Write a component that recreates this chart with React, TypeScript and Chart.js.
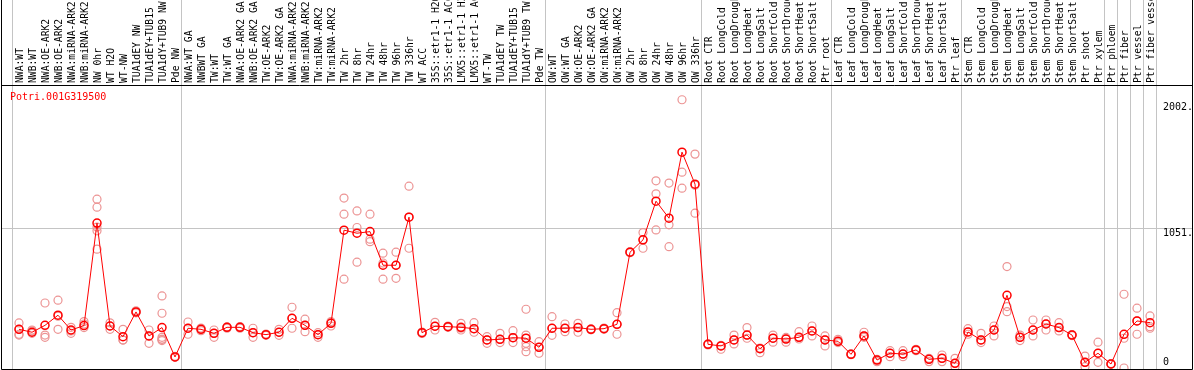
import React, { useEffect, useRef } from "react";
import { Chart, registerables } from "chart.js";

Chart.register(...registerables);

const GENE = "Potri.001G319500";

const CATEGORIES = [
  "NWA:WT", "NWB:WT", "NWA:OE-ARK2", "NWB:OE-ARK2", "NWA:miRNA-ARK2", "NWB:miRNA-ARK2", "NW 0hr", "WT H2O", "WT-NW", "TUA1dEY NW", "TUA1dEY+TUB15", "TUA1dY+TUB9 NW", "Pde NW",
  "NWA:WT GA", "NWBWT GA", "TW:WT", "TW:WT GA", "NWA:OE-ARK2 GA", "NWB:OE-ARK2 GA", "TW:OE-ARK2", "TW:OE-ARK2 GA", "NWA:miRNA-ARK2", "NWB:miRNA-ARK2", "TW:miRNA-ARK2", "TW:miRNA-ARK2", "TW 2hr", "TW 8hr", "TW 24hr", "TW 48hr", "TW 96hr", "TW 336hr", "WT ACC", "35S::etr1-1 H2O", "35S::etr1-1 ACC", "LMX5::etr1-1 H2O", "LMX5::etr1-1 ACC", "WT-TW", "TUA1dEY TW", "TUA1dEY+TUB15", "TUA1dY+TUB9 TW", "Pde TW",
  "OW:WT", "OW:WT GA", "OW:OE-ARK2", "OW:OE-ARK2 GA", "OW:miRNA-ARK2", "OW:miRNA-ARK2", "OW 2hr", "OW 8hr", "OW 24hr", "OW 48hr", "OW 96hr", "OW 336hr",
  "Root CTR", "Root LongCold", "Root LongDrought", "Root LongHeat", "Root LongSalt", "Root ShortCold", "Root ShortDrought", "Root ShortHeat", "Root ShortSalt", "Ptr root",
  "Leaf CTR", "Leaf LongCold", "Leaf LongDrought", "Leaf LongHeat", "Leaf LongSalt", "Leaf ShortCold", "Leaf ShortDrought", "Leaf ShortHeat", "Leaf ShortSalt", "Ptr leaf",
  "Stem CTR", "Stem LongCold", "Stem LongDrought", "Stem LongHeat", "Stem LongSalt", "Stem ShortCold", "Stem ShortDrought", "Stem ShortHeat", "Stem ShortSalt", "Ptr shoot", "Ptr xylem",
  "Ptr phloem", "Ptr fiber", "Ptr vessel", "Ptr fiber vessel",
];

const MEAN = [
  291, 269, 321, 397, 286, 319, 1090, 316, 236, 422, 241, 304, 83,
  299, 291, 261, 306, 306, 266, 251, 269, 374, 321, 251, 336, 1037, 1014, 1026, 773, 773, 1135, 266, 314, 311, 306, 296, 211, 216, 228, 224, 156,
  299, 299, 304, 291, 296, 329, 871, 964, 1255, 1127, 1624, 1383,
  178, 166, 211, 248, 145, 224, 218, 231, 279, 211,
  201, 103, 241, 60, 111, 105, 136, 65, 73, 35,
  271, 211, 286, 547, 231, 286, 331, 304, 248, 43, 111,
  30, 253, 354, 341,
];

const REPLICATES = [
  [339, 291, 254, 248], [286, 261, 279], [489, 248, 231], [510, 291, 390], [306, 261, 279], [349, 304, 331],
  [1270, 1210, 1032, 894, 1060], [340, 316, 291], [291, 211, 210], [430, 415, 422], [286, 186, 241],
  [542, 412, 231, 216, 206, 216], [88, 80, 83],
  [346, 299, 254], [281, 291, 300], [286, 261, 231], [306, 310, 300], [306, 300, 312], [299, 266, 231],
  [251, 255, 246], [291, 269, 246], [457, 299, 374], [367, 321, 273], [266, 251, 231], [349, 316, 340],
  [1278, 1157, 668], [1182, 1057, 796], [1157, 969, 950], [864, 668, 790], [871, 675, 773], [1368, 901, 1136],
  [266, 270, 260], [344, 286, 314], [311, 316, 306], [336, 286, 300], [341, 269, 296], [186, 211, 236],
  [261, 191, 216], [281, 191, 228], [442, 248, 186, 160, 123, 224], [198, 111, 156],
  [386, 246, 299], [331, 273, 299], [336, 269, 304], [291, 295, 287], [296, 300, 292], [416, 254, 329],
  [871, 875, 867], [1019, 901, 964], [1408, 1310, 1039], [1391, 1077, 913], [2018, 1473, 1353], [1609, 1165, 1375],
  [178, 182, 174], [141, 166, 170], [248, 181, 211], [304, 224, 248], [115, 145, 150], [248, 194, 224],
  [194, 218, 230], [273, 218, 231], [316, 241, 279], [241, 166, 211],
  [216, 191, 201], [103, 100, 106], [269, 231, 241], [48, 60, 65], [130, 85, 111], [130, 85, 105],
  [141, 136, 130], [73, 48, 65], [98, 48, 73], [73, 10, 35],
  [296, 254, 271], [261, 191, 211], [316, 241, 286], [763, 462, 424], [248, 206, 231], [361, 241, 286],
  [361, 286, 331], [341, 279, 304], [248, 244, 252], [90, 10, 43], [194, 43, 111],
  [30, 28, 33], [555, 0, 224], [450, 254, 354], [392, 299, 311],
];

const GROUP_BOUNDARIES = [0, 13, 41, 53, 63, 73, 84, 85, 86, 87, 88];
const Y_TICKS = [0, 1051, 2002];
const Y_TICK_LABELS = ["0", "1051.", "2002."];

const MONO = "'DejaVu Sans Mono', monospace";
const GRID = "#c4c4c4";
const RED = "#ff0000";
const PINK = "#ec9494";

export default function App() {
  const ref = useRef<HTMLCanvasElement>(null);

  useEffect(() => {
    const canvas = ref.current;
    if (!canvas) return;
    const meanPts = MEAN.map((v, i) => ({ x: i, y: v }));
    const repPts = REPLICATES.flatMap((arr, i) => arr.map((v) => ({ x: i, y: v })));

    const framePlugin = {
      id: "frame",
      afterDraw(chart: any) {
        const { ctx, chartArea, scales } = chart;
        const left = chartArea.left + 0.5;
        const right = scales.y.right + 0.5;
        const bottom = chartArea.bottom + 0.5;
        const top = chartArea.top + 0.5;
        ctx.save();
        ctx.strokeStyle = "#000";
        ctx.lineWidth = 1;
        ctx.beginPath();
        ctx.moveTo(left, 0);
        ctx.lineTo(left, bottom);
        ctx.moveTo(right, 0);
        ctx.lineTo(right, bottom);
        ctx.moveTo(left, bottom);
        ctx.lineTo(right, bottom);
        ctx.moveTo(left, top);
        ctx.lineTo(right, top);
        ctx.stroke();
        ctx.fillStyle = RED;
        ctx.font = `10px ${MONO}`;
        ctx.textBaseline = "middle";
        ctx.textAlign = "left";
        ctx.fillText(GENE, chartArea.left + 9, chartArea.top + 12);
        ctx.restore();
      },
    };

    const chart = new Chart(canvas, {
      type: "line",
      data: {
        datasets: [
          {
            label: GENE,
            data: meanPts,
            borderColor: RED,
            borderWidth: 1,
            pointRadius: 4,
            pointBorderWidth: 1.5,
            pointBorderColor: RED,
            pointBackgroundColor: "rgba(0,0,0,0)",
            tension: 0,
          },
          {
            label: "replicates",
            data: repPts,
            showLine: false,
            pointRadius: 4,
            pointBorderWidth: 1.2,
            pointBorderColor: PINK,
            pointBackgroundColor: "rgba(0,0,0,0)",
          },
        ],
      },
      options: {
        animation: false,
        responsive: false,
        events: [],
        layout: { autoPadding: false, padding: { left: 1, right: 2, top: 0, bottom: 1 } },
        plugins: { legend: { display: false }, tooltip: { enabled: false } },
        scales: {
          x: {
            type: "linear",
            position: "top",
            min: -18 / 13,
            max: -18 / 13 + 1156 / 13,
            afterBuildTicks: (s: any) => {
              s.ticks = CATEGORIES.map((_, i) => ({ value: i }));
            },
            afterFit: (s: any) => {
              s.height = 85;
              s.paddingLeft = 0;
              s.paddingRight = 0;
            },
            grid: {
              offset: true,
              lineWidth: 1,
              tickLength: 85,
              color: (c: any) => {
                const i = c.type === "tick" ? c.index : 88;
                return GROUP_BOUNDARIES.includes(i) ? GRID : "rgba(0,0,0,0)";
              },
            },
            border: { display: false },
            ticks: {
              autoSkip: false,
              minRotation: 90,
              maxRotation: 90,
              padding: -83,
              labelOffset: 13,
              color: "#000",
              font: { family: MONO, size: 9.7 },
              callback: (_v: any, i: number) => CATEGORIES[i],
            },
          },
          y: {
            type: "linear",
            position: "right",
            min: -7.5,
            max: 2129,
            afterBuildTicks: (s: any) => {
              s.ticks = Y_TICKS.map((v) => ({ value: v }));
            },
            afterFit: (s: any) => {
              s.width = 35;
              s.paddingTop = 0;
              s.paddingBottom = 0;
            },
            grid: {
              tickLength: 35,
              lineWidth: 1,
              color: (c: any) => (c.tick && c.tick.value === 1051 ? GRID : "rgba(0,0,0,0)"),
            },
            border: { display: false },
            ticks: {
              padding: -29,
              color: "#000",
              font: { family: MONO, size: 10, lineHeight: 1.1 },
              callback: (_v: any, i: number) => (i === 0 ? [Y_TICK_LABELS[i], ""] : ["", Y_TICK_LABELS[i]]),
            },
          },
        },
      },
      plugins: [framePlugin],
    } as any);

    return () => chart.destroy();
  }, []);

  return (
    <div style={{ position: "fixed", left: 0, top: 0, width: 1194, height: 370, background: "#fff" }}>
      <canvas ref={ref} width={1194} height={370} style={{ display: "block" }} />
    </div>
  );
}
